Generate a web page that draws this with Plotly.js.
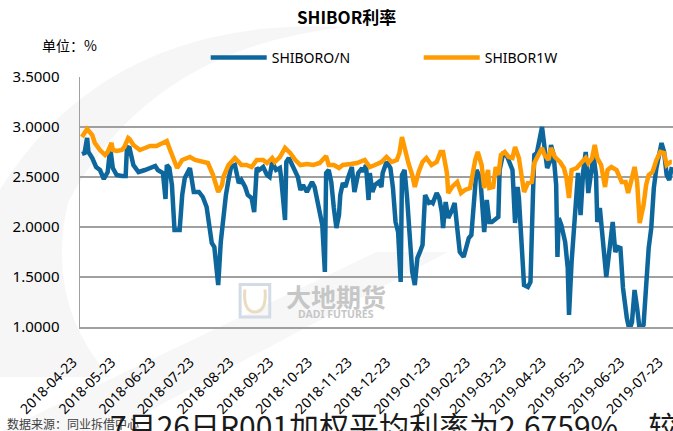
<!DOCTYPE html>
<html>
<head>
<meta charset="utf-8">
<script src="https://cdn.plot.ly/plotly-3.0.1.min.js"></script>
<style>
html,body{margin:0;padding:0;background:#fff;}
#chart{width:673px;height:431px;}
</style>
</head>
<body>
<div id="chart"></div>
<script>
// ---- data ----
const tickLabels = ["2018-04-23","2018-05-23","2018-06-23","2018-07-23","2018-08-23","2018-09-23","2018-10-23","2018-11-23","2018-12-23","2019-01-23","2019-02-23","2019-03-23","2019-04-23","2019-05-23","2019-06-23","2019-07-23"];

const onDates = ["2018-04-23","2018-04-25","2018-04-27","2018-04-28","2018-05-01","2018-05-04","2018-05-07","2018-05-10","2018-05-13","2018-05-15","2018-05-17","2018-05-20","2018-05-24","2018-05-27","2018-05-28","2018-05-30","2018-06-02","2018-06-06","2018-06-11","2018-06-16","2018-06-19","2018-06-21","2018-06-25","2018-06-27","2018-06-28","2018-06-30","2018-07-02","2018-07-04","2018-07-08","2018-07-10","2018-07-12","2018-07-16","2018-07-19","2018-07-23","2018-07-26","2018-07-29","2018-08-01","2018-08-02","2018-08-04","2018-08-07","2018-08-09","2018-08-11","2018-08-13","2018-08-15","2018-08-17","2018-08-20","2018-08-23","2018-08-25","2018-08-28","2018-08-30","2018-09-02","2018-09-04","2018-09-06","2018-09-08","2018-09-11","2018-09-14","2018-09-16","2018-09-18","2018-09-21","2018-09-24","2018-09-25","2018-09-28","2018-09-29","2018-10-01","2018-10-03","2018-10-06","2018-10-08","2018-10-10","2018-10-12","2018-10-15","2018-10-19","2018-10-21","2018-10-24","2018-10-27","2018-10-29","2018-10-30","2018-11-01","2018-11-03","2018-11-05","2018-11-07","2018-11-09","2018-11-10","2018-11-12","2018-11-14","2018-11-16","2018-11-19","2018-11-21","2018-11-24","2018-11-27","2018-11-28","2018-11-30","2018-12-02","2018-12-03","2018-12-05","2018-12-07","2018-12-10","2018-12-12","2018-12-13","2018-12-16","2018-12-19","2018-12-21","2018-12-23","2018-12-25","2018-12-27","2018-12-28","2018-12-30","2019-01-01","2019-01-03","2019-01-05","2019-01-07","2019-01-09","2019-01-11","2019-01-13","2019-01-15","2019-01-18","2019-01-20","2019-01-21","2019-01-24","2019-01-26","2019-01-28","2019-01-29","2019-01-31","2019-02-02","2019-02-05","2019-02-07","2019-02-09","2019-02-11","2019-02-14","2019-02-16","2019-02-18","2019-02-20","2019-02-22","2019-02-24","2019-02-27","2019-02-28","2019-03-02","2019-03-04","2019-03-06","2019-03-08","2019-03-10","2019-03-13","2019-03-14","2019-03-17","2019-03-20","2019-03-22","2019-03-24","2019-03-26","2019-03-28","2019-03-29","2019-03-31","2019-04-02","2019-04-05","2019-04-07","2019-04-09","2019-04-10","2019-04-12","2019-04-14","2019-04-16","2019-04-18","2019-04-20","2019-04-22","2019-04-23","2019-04-25","2019-04-27","2019-04-28","2019-04-29","2019-05-01","2019-05-04","2019-05-06","2019-05-07","2019-05-09","2019-05-12","2019-05-14","2019-05-16","2019-05-18","2019-05-20","2019-05-22","2019-05-25","2019-05-26","2019-05-28","2019-05-29","2019-05-31","2019-06-02","2019-06-05","2019-06-07","2019-06-10","2019-06-12","2019-06-14","2019-06-16","2019-06-18","2019-06-21","2019-06-23","2019-06-25","2019-06-27","2019-06-29","2019-07-01","2019-07-04","2019-07-06","2019-07-08","2019-07-10","2019-07-12","2019-07-14","2019-07-16","2019-07-18","2019-07-20","2019-07-22","2019-07-24","2019-07-26"];
const onValues = [2.73,2.74,2.89,2.75,2.69,2.60,2.57,2.48,2.55,2.79,2.59,2.52,2.51,2.51,2.80,2.79,2.62,2.55,2.57,2.59,2.61,2.57,2.54,2.28,2.62,2.59,2.42,1.97,1.97,2.32,2.49,2.59,2.35,2.35,2.30,2.20,1.97,1.84,1.80,1.42,1.85,2.15,2.32,2.47,2.60,2.62,2.44,2.47,2.40,2.32,2.29,2.15,2.59,2.57,2.60,2.52,2.50,2.65,2.57,2.59,2.49,2.07,2.65,2.69,2.64,2.57,2.50,2.37,2.42,2.35,2.45,2.40,2.20,2.02,1.55,2.54,2.57,2.45,2.19,1.99,2.12,2.32,2.44,2.40,2.49,2.60,2.35,2.54,2.59,2.55,2.62,2.27,2.54,2.35,2.42,2.45,2.40,2.54,2.65,2.59,2.39,2.05,1.95,1.45,2.52,2.57,2.29,1.85,1.55,1.42,1.69,1.75,1.82,2.32,2.24,2.25,2.24,2.34,2.29,2.15,1.99,2.25,2.09,2.17,2.24,1.99,1.75,1.70,1.82,1.89,1.92,2.24,2.57,2.49,2.25,1.95,2.27,2.05,2.05,2.07,2.10,2.57,2.75,2.70,2.62,2.57,2.04,2.40,2.29,1.92,1.42,1.40,1.45,2.35,2.72,2.74,2.89,3.00,2.79,2.59,2.65,2.82,2.72,2.42,1.70,2.09,2.02,1.85,1.59,1.12,1.65,2.12,2.54,2.12,2.55,2.75,2.34,2.62,2.72,2.52,2.05,2.19,1.95,1.50,1.72,2.05,1.75,1.80,1.79,1.39,1.09,0.97,1.05,1.37,1.19,0.97,1.02,1.45,1.79,1.99,2.39,2.59,2.74,2.84,2.75,2.52,2.47,2.60];

const w1Dates = ["2018-04-23","2018-04-27","2018-05-01","2018-05-03","2018-05-07","2018-05-11","2018-05-13","2018-05-16","2018-05-17","2018-05-20","2018-05-24","2018-05-26","2018-05-29","2018-05-30","2018-06-02","2018-06-07","2018-06-11","2018-06-15","2018-06-20","2018-06-24","2018-06-28","2018-06-30","2018-07-03","2018-07-06","2018-07-10","2018-07-16","2018-07-20","2018-07-25","2018-07-30","2018-08-03","2018-08-07","2018-08-10","2018-08-11","2018-08-15","2018-08-20","2018-08-23","2018-08-25","2018-08-29","2018-09-02","2018-09-06","2018-09-11","2018-09-14","2018-09-18","2018-09-20","2018-09-24","2018-09-28","2018-10-02","2018-10-06","2018-10-10","2018-10-15","2018-10-20","2018-10-25","2018-10-30","2018-11-01","2018-11-05","2018-11-09","2018-11-12","2018-11-18","2018-11-23","2018-11-29","2018-12-03","2018-12-07","2018-12-12","2018-12-16","2018-12-20","2018-12-24","2018-12-26","2018-12-28","2018-12-30","2019-01-02","2019-01-05","2019-01-07","2019-01-10","2019-01-13","2019-01-16","2019-01-20","2019-01-24","2019-01-27","2019-01-29","2019-02-01","2019-02-02","2019-02-05","2019-02-09","2019-02-12","2019-02-15","2019-02-19","2019-02-23","2019-02-25","2019-02-28","2019-03-02","2019-03-05","2019-03-06","2019-03-09","2019-03-11","2019-03-13","2019-03-15","2019-03-18","2019-03-21","2019-03-24","2019-03-26","2019-03-29","2019-03-31","2019-04-02","2019-04-05","2019-04-08","2019-04-10","2019-04-13","2019-04-16","2019-04-18","2019-04-21","2019-04-23","2019-04-26","2019-04-30","2019-05-03","2019-05-05","2019-05-07","2019-05-09","2019-05-13","2019-05-15","2019-05-17","2019-05-20","2019-05-22","2019-05-25","2019-05-27","2019-05-29","2019-06-01","2019-06-04","2019-06-06","2019-06-09","2019-06-13","2019-06-17","2019-06-20","2019-06-22","2019-06-24","2019-06-27","2019-06-29","2019-07-01","2019-07-04","2019-07-06","2019-07-08","2019-07-11","2019-07-14","2019-07-17","2019-07-20","2019-07-22","2019-07-25","2019-07-26"];
const w1Values = [2.90,2.98,2.92,2.84,2.77,2.72,2.75,2.84,2.77,2.76,2.77,2.80,2.89,2.88,2.82,2.77,2.79,2.81,2.81,2.83,2.86,2.79,2.69,2.59,2.67,2.70,2.67,2.66,2.64,2.52,2.35,2.42,2.50,2.62,2.69,2.65,2.62,2.62,2.60,2.67,2.67,2.64,2.69,2.65,2.70,2.79,2.74,2.67,2.62,2.63,2.62,2.64,2.71,2.62,2.62,2.59,2.62,2.63,2.64,2.67,2.60,2.62,2.65,2.70,2.65,2.67,2.74,2.90,2.79,2.64,2.52,2.40,2.55,2.65,2.69,2.62,2.65,2.75,2.75,2.54,2.34,2.40,2.45,2.34,2.37,2.39,2.67,2.75,2.62,2.39,2.57,2.39,2.40,2.60,2.52,2.72,2.75,2.70,2.69,2.80,2.69,2.50,2.35,2.44,2.45,2.64,2.72,2.79,2.72,2.67,2.79,2.70,2.65,2.59,2.49,2.29,2.57,2.59,2.62,2.65,2.69,2.64,2.69,2.82,2.69,2.62,2.40,2.57,2.60,2.57,2.45,2.45,2.34,2.44,2.60,2.45,2.04,2.22,2.42,2.52,2.55,2.67,2.75,2.74,2.62,2.65,2.65];

const seriesNames = ["SHIBORO/N","SHIBOR1W"];
const titleText = "SHIBOR利率";
const unitText = "单位：%";
const sourceText = "数据来源：同业拆借中心";
const overlapText = "7月26日R001加权平均利率为2.6759%，较";
const watermarkCn = "大地期货";
const watermarkEn = "DADI FUTURES";

// ---- figure ----
const FONT = "Noto Sans, Noto Sans CJK SC, sans-serif";
const CJK = "Noto Sans CJK SC, Noto Sans, sans-serif";

const traces = [
  {x: onDates, y: onValues, name: seriesNames[0], type: "scatter", mode: "lines",
   line: {color: "#0E679C", width: 4.5, shape: "linear"}},
  {x: w1Dates, y: w1Values, name: seriesNames[1], type: "scatter", mode: "lines",
   line: {color: "#FF9A00", width: 4.5, shape: "linear"}}
];

const layout = {
  width: 673, height: 431,
  margin: {l: 80, r: 0, t: 77, b: 104},
  paper_bgcolor: "#ffffff", plot_bgcolor: "rgba(0,0,0,0)",
  font: {family: FONT, color: "#000000", size: 14},
  title: {text: "<b>" + titleText + "</b>", x: 0.515, xanchor: "center", y: 0.958, yanchor: "middle",
          font: {family: CJK, size: 17, color: "#000000"}},
  showlegend: true,
  legend: {orientation: "h", x: 0.212, xanchor: "left", y: 1.076, yanchor: "middle",
           font: {family: FONT, size: 14, color: "#000000"}, itemwidth: 56,
           entrywidth: 142, entrywidthmode: "pixels",
           bgcolor: "rgba(0,0,0,0)", traceorder: "normal"},
  xaxis: {type: "date", range: ["2018-04-21 11:00", "2019-07-26 22:00"],
          tickvals: tickLabels, ticktext: tickLabels, tickangle: -45,
          showgrid: false, showline: true, linecolor: "#a0a0a0", linewidth: 1.5,
          ticks: "", ticklabelstandoff: 20, ticklabelshift: -9, ticklabeloverflow: "allow",
          tickfont: {family: FONT, size: 14, color: "#000"},
          zeroline: false, fixedrange: true},
  yaxis: {range: [1, 3.5], dtick: 0.5, tick0: 1, tickformat: ".4f",
          showgrid: true, gridcolor: "#a0a0a0", gridwidth: 1.5,
          showline: true, linecolor: "#a0a0a0", linewidth: 1.5,
          ticks: "", ticklabelstandoff: 16, tickfont: {family: FONT, size: 15, color: "#000"},
          zeroline: false, fixedrange: true},
  shapes: [
    // faint background swooshes of the report page
    {type: "path", xref: "paper", yref: "paper", layer: "below",
     path: "M -0.135 0.55 Q 0.05 1.25 0.45 1.2 Q 0.12 1.12 -0.02 0.5 Q -0.06 0.1 0.05 -0.2 L -0.135 -0.2 Z",
     fillcolor: "#f6f6f6", line: {width: 0}},
    {type: "path", xref: "paper", yref: "paper", layer: "below",
     path: "M -0.135 -0.42 L 0.5 0.3 L 0.62 0.3 L 0.05 -0.42 Z",
     fillcolor: "#f7f7f7", line: {width: 0}},
    // watermark logo
    {type: "path", xref: "paper", yref: "paper", layer: "below",
     path: "M 0.27 0.17 L 0.32 0.17 L 0.32 0.04 L 0.27 0.04 Z",
     fillcolor: "rgba(0,0,0,0)", line: {color: "#d3dbe6", width: 3}},
    {type: "path", xref: "paper", yref: "paper", layer: "below",
     path: "M 0.278 0.15 Q 0.275 0.06 0.295 0.06 Q 0.315 0.06 0.312 0.15",
     fillcolor: "rgba(0,0,0,0)", line: {color: "#eadcc0", width: 3}}
  ],
  annotations: [
    {text: unitText, xref: "paper", yref: "paper", x: -0.0675, y: 1.128, xanchor: "left", yanchor: "middle",
     showarrow: false, font: {family: CJK, size: 14, color: "#000"}},
    {text: "<b>" + watermarkCn + "</b>", xref: "paper", yref: "paper", x: 0.431, y: 0.125, xanchor: "center", yanchor: "middle",
     showarrow: false, font: {family: CJK, size: 25, color: "#c6c6c6"}},
    {text: "<b>" + watermarkEn + "</b>", xref: "paper", yref: "paper", x: 0.431, y: 0.052, xanchor: "center", yanchor: "middle",
     showarrow: false, font: {family: FONT, size: 10.5, color: "#c6c6c6"}},
    {text: sourceText, xref: "paper", yref: "paper", x: -0.126, y: -0.384, xanchor: "left", yanchor: "middle",
     showarrow: false, font: {family: CJK, size: 12, color: "#404040"}},
    {text: overlapText, xref: "paper", yref: "paper", x: 0.047, y: -0.39, xanchor: "left", yanchor: "middle",
     showarrow: false, font: {family: CJK, size: 30, color: "#1a1a1a"}}
  ]
};

Plotly.newPlot("chart", traces, layout, {displayModeBar: false, staticPlot: true});
</script>
</body>
</html>
